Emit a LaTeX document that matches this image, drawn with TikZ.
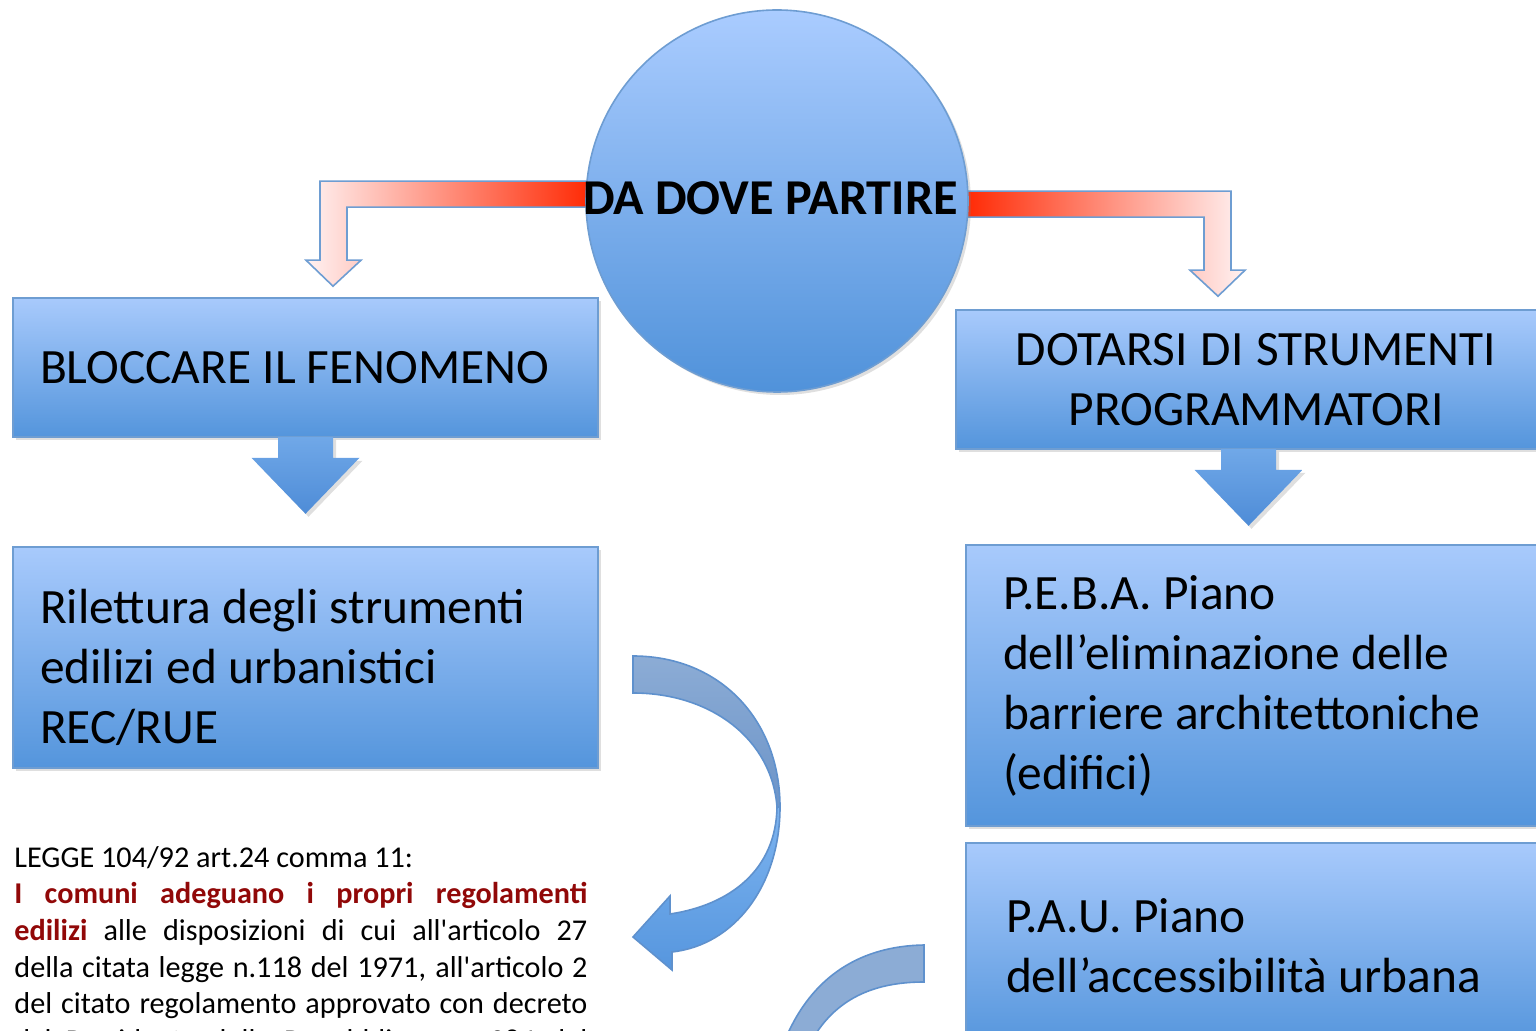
\documentclass[tikz,border=0pt]{standalone}
\usepackage{fontspec}
\setmainfont{Carlito}
\usetikzlibrary{calc,shadows}

\definecolor{boxtop}{RGB}{168,202,252}
\definecolor{boxbot}{RGB}{84,149,220}
\definecolor{boxline}{RGB}{110,157,210}
\definecolor{circtop}{RGB}{170,204,255}
\definecolor{circbot}{RGB}{80,146,218}
\definecolor{arrtop}{RGB}{112,168,232}
\definecolor{arrbot}{RGB}{78,140,215}
\definecolor{rosso}{RGB}{255,38,0}
\definecolor{rosa}{RGB}{255,242,242}
\definecolor{curvadark}{RGB}{140,172,213}
\definecolor{curvadeep}{RGB}{108,148,200}
\definecolor{curvatop}{RGB}{125,180,240}
\definecolor{curvabot}{RGB}{86,150,222}
\definecolor{curvaline}{RGB}{95,145,205}
\definecolor{legred}{RGB}{145,8,8}

% riga giustificata del testo di legge
\newcommand{\riga}[1]{\makebox[286.5pt][s]{\spaceskip=0.2em plus 1fil minus 0.1em\relax #1}}

\begin{document}
\begin{tikzpicture}[x=0.5pt,y=-0.5pt,
	every node/.style={execute at begin node={\spaceskip=0pt\xspaceskip=0pt}},
	ombra/.style={drop shadow={opacity=0.25,shadow xshift=1.5pt,shadow yshift=-1.5pt}},
	box/.style={draw=boxline,line width=0.8pt,top color=boxtop,bottom color=boxbot,inner ysep=0pt,
		font=\fontsize{24.7}{30}\selectfont,align=left,ombra},
	piega/.style={draw=boxline,line width=0.8pt},
	giufill/.style={top color=arrtop,bottom color=arrbot,ombra},
	giu/.pic={\path[giufill] (-27.5,-1) -- (-27.5,20) -- (-54,20) -- (0,76) -- (54,20) -- (27.5,20) -- (27.5,-1) -- cycle;}]
	
	\useasboundingbox (0,0) rectangle (1536,1031);
	\clip (0,0) rectangle (1536,1031);
	
	% riquadri
	\node[box,minimum width=292.5pt,minimum height=69.5pt,text width=265.5pt,inner xsep=13.5pt] (blocco) at (305.5,367.5) {BLOCCARE IL FENOMENO};
	\node[box,minimum width=300pt,minimum height=69.5pt,text width=273pt,inner xsep=13.5pt,align=center] (dotarsi) at (1256,379.5) {DOTARSI DI STRUMENTI\\PROGRAMMATORI};
	\node[box,minimum width=292.5pt,minimum height=110.5pt,text width=265.5pt,inner xsep=13.5pt] (rilettura) at (305.5,657.5) {\rule{0pt}{27.5pt}Rilettura degli strumenti\\edilizi ed urbanistici\\REC/RUE};
	\node[box,minimum width=295pt,minimum height=140.5pt,text width=258pt,inner xsep=18.5pt] (peba) at (1261,685.5) {P.E.B.A. Piano\\dell'eliminazione delle\\barriere architettoniche\\(edifici)};
	\node[box,minimum width=295pt,minimum height=102.5pt,text width=255pt,inner xsep=20pt] (pau) at (1261,945.5) {P.A.U. Piano\\dell'accessibilità urbana};
	
	% frecce in giu
	\pic at (blocco.south) {giu};
	\pic at ($(dotarsi.south)+(-7.5,0)$) {giu};
	
	% frecce piegate
	\coordinate (sx) at ($(blocco.north)+(27.5,-11)$);
	\path[piega,left color=rosa,right color=rosso] (sx) -- +(-27,-26) -- +(-13,-26) -- +(-13,-105) -- +(262,-105) -- +(262,-79) -- +(14,-79) -- +(14,-26) -- +(28,-26) -- cycle;
	\coordinate (dx) at ($(dotarsi.north)+(-38,-13)$);
	\path[piega,left color=rosso,right color=rosa] (dx) -- +(27,-26) -- +(13,-26) -- +(13,-105) -- +(-258,-105) -- +(-258,-79) -- +(-14,-79) -- +(-14,-26) -- +(-28,-26) -- cycle;
	
	% cerchio
	\node[circle,minimum size=191pt,inner sep=0pt,draw=boxline,line width=0.8pt,top color=circtop,bottom color=circbot,ombra] (partire) at (777,201) {};
	\node[font=\bfseries\fontsize{25.1}{28}\selectfont,inner sep=0pt] (titolo) at (770.5,198.5) {DA DOVE PARTIRE};
	
	% frecce curve
	\path[top color=curvadark,bottom color=curvadeep,draw=curvaline,line width=0.8pt] (633,656) .. controls (720,656) and (780,720) .. (780,807) -- (777,807) .. controls (772,740) and (712,693) .. (633,693) -- cycle;
	\path[top color=curvatop,bottom color=curvabot,draw=curvaline,line width=0.8pt] (780,807) .. controls (780,885) and (735,945) .. (672,952) -- (672,970) -- (633,937) -- (670,896) -- (670,914) .. controls (730,905) and (776,870) .. (777,807) -- cycle;
	\path[fill=curvadark,draw=curvaline,line width=0.8pt] (924,945) .. controls (862,946) and (812,975) .. (785,1040) -- (812,1040) .. controls (835,1000) and (872,982) .. (924,982) -- cycle;
	
	% testo legge
	\node[anchor=north west,inner sep=0pt,text width=286.5pt,align=left,font=\fontsize{15.1}{18.3}\selectfont] (legge) at (14,846) {LEGGE 104/92 art.24 comma 11:\\
		\riga{\textbf{\color{legred}I comuni adeguano i propri regolamenti}}\\
		\riga{\textbf{\color{legred}edilizi} alle disposizioni di cui all\textquotesingle articolo 27}\\
		\riga{della citata legge n.118 del 1971, all\textquotesingle articolo 2}\\
		\riga{del citato regolamento approvato con decreto}\\
		\riga{dal Presidente della Repubblica n. 384 del}};
	
\end{tikzpicture}
\end{document}
